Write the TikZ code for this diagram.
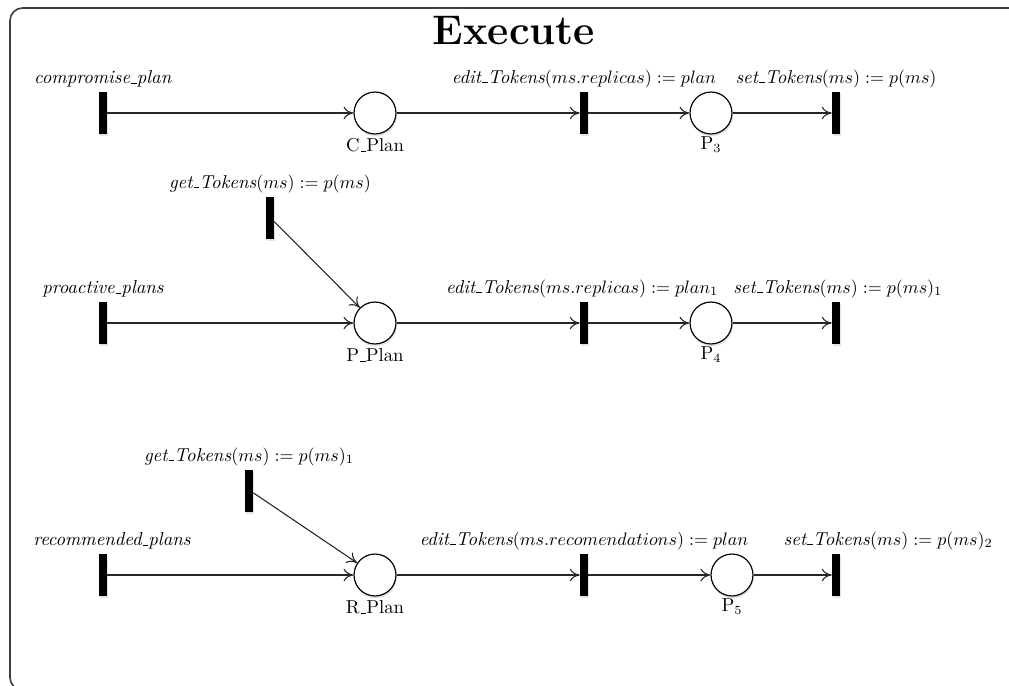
\documentclass[tikz,border=0pt]{standalone}
\usetikzlibrary{shadows, arrows.meta}

\tikzset{
  trans/.style={rectangle, fill=black, inner sep=0pt,
    minimum width=4.4pt, minimum height=23.5pt,
    drop shadow={opacity=0.22, shadow xshift=0.5pt, shadow yshift=-1.3pt}},
  place/.style={circle, draw, fill=white, line width=0.65pt, inner sep=0pt,
    minimum size=23.3pt,
    drop shadow={opacity=0.22, shadow xshift=0.5pt, shadow yshift=-1.3pt}},
  lbl/.style={font=\fontsize{10.4}{12.5}\selectfont, inner sep=2pt},
  arc/.style={-{To[length=5.5pt, width=7pt]}, line width=0.6pt, black!85},
  frame/.style={rounded corners=7pt, line width=0.9pt, black!75}
}

% short underscore as in classic LaTeX text fonts
\newcommand{\us}{\leavevmode\kern.06em\vbox{\hrule width.3em}}
\newcommand{\itw}[1]{\textit{#1}}

\begin{document}
\begin{tikzpicture}[x=0.5556pt, y=-0.5556pt]
  \useasboundingbox (0,0) rectangle (1009,686);
  \clip (0,0) rectangle (1009,686);

  % outer frame and title
  \draw[frame] (10,8) rectangle (1040,690);
  \node[font=\fontsize{23}{28}\selectfont\bfseries] (title) at (514,31) {Execute};

  % first row: compromise plan
  \node[trans, label={[lbl]above:\itw{compromise\us plan}}] (tc) at (103,113) {};
  \node[place, label={[lbl]below:C\us Plan}] (cp) at (375,113) {};
  \node[trans, label={[lbl]above:\itw{edit\us Tokens}$(ms.replicas) := plan$}] (te1) at (584,113) {};
  \node[place, label={[lbl,inner sep=1pt]below:P$_3$}] (p3) at (711,113) {};
  \node[trans, label={[lbl]above:\itw{set\us Tokens}$(ms) := p(ms)$}] (ts1) at (836,113) {};

  % second row: proactive plans
  \node[trans, label={[lbl]above:\itw{get\us Tokens}$(ms) := p(ms)$}] (tg1) at (270,218) {};
  \node[trans, label={[lbl]above:\itw{proactive\us plans}}] (tp) at (103,323) {};
  \node[place, label={[lbl]below:P\us Plan}] (pp) at (375,323) {};
  \node[trans, label={[lbl,xshift=-1pt]above:\itw{edit\us Tokens}$(ms.replicas) := plan_1$}] (te2) at (584,323) {};
  \node[place, label={[lbl,inner sep=1pt]below:P$_4$}] (p4) at (711,323) {};
  \node[trans, label={[lbl,xshift=1pt]above:\itw{set\us Tokens}$(ms) := p(ms)_1$}] (ts2) at (836,323) {};

  % third row: recommended plans
  \node[trans, label={[lbl]above:\itw{get\us Tokens}$(ms) := p(ms)_1$}] (tg2) at (249,491) {};
  \node[trans, label={[lbl,xshift=5pt]above:\itw{recommended\us plans}}] (tr) at (103,575) {};
  \node[place, label={[lbl]below:R\us Plan}] (rp) at (375,575) {};
  \node[trans, label={[lbl]above:\itw{edit\us Tokens}$(ms.recomendations) := plan$}] (te3) at (584,575) {};
  \node[place, label={[lbl,inner sep=1pt]below:P$_5$}] (p5) at (732,575) {};
  \node[trans, label={[lbl,xshift=29pt]above:\itw{set\us Tokens}$(ms) := p(ms)_2$}] (ts3) at (836,575) {};

  % start points of the slanted arcs, on the right side of their bars
  \coordinate (g1s) at ([yshift=-2pt]tg1.east);
  \coordinate (g2s) at ([yshift=-1pt]tg2.east);

  % arcs
  \draw[arc] (tc) -- (cp);
  \draw[arc] (cp) -- (te1);
  \draw[arc] (te1) -- (p3);
  \draw[arc] (p3) -- (ts1);

  \draw[arc] (tp) -- (pp);
  \draw[arc] (g1s) -- (pp);
  \draw[arc] (pp) -- (te2);
  \draw[arc] (te2) -- (p4);
  \draw[arc] (p4) -- (ts2);

  \draw[arc] (tr) -- (rp);
  \draw[arc] (g2s) -- (rp);
  \draw[arc] (rp) -- (te3);
  \draw[arc] (te3) -- (p5);
  \draw[arc] (p5) -- (ts3);
\end{tikzpicture}
\end{document}
